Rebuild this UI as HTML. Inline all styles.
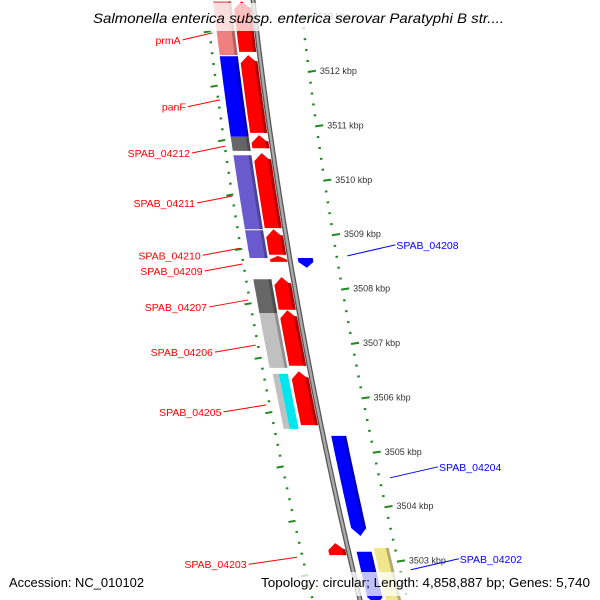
<!DOCTYPE html>
<html><head><meta charset="utf-8"><style>
html,body{margin:0;padding:0;background:#fff;width:600px;height:600px;overflow:hidden}
svg{display:block}
text{font-family:"Liberation Sans","DejaVu Sans",sans-serif}
</style></head><body>
<svg id="map" width="600" height="600" viewBox="0 0 600 600" xmlns="http://www.w3.org/2000/svg">
<g id="rings"></g>
<g id="backbone"></g>
<g id="feats"></g>
<g id="labels"></g>
<rect x="86" y="3" width="428" height="28" fill="#fff" fill-opacity="0.75"/>
<text x="93" y="23" textLength="411" lengthAdjust="spacingAndGlyphs" font-size="14" font-style="italic" fill="#000">Salmonella enterica subsp. enterica serovar Paratyphi B str....</text>
<rect x="4" y="572" width="146" height="24" fill="#fff" fill-opacity="0.75"/>
<text x="9" y="587" textLength="135" lengthAdjust="spacingAndGlyphs" font-size="13" fill="#000">Accession: NC_010102</text>
<rect x="256" y="572" width="340" height="24" fill="#fff" fill-opacity="0.75"/>
<text x="261" y="587" textLength="329" lengthAdjust="spacingAndGlyphs" font-size="13" fill="#000">Topology: circular; Length: 4,858,887 bp; Genes: 5,740</text>
</svg>
<script>
// data (kbp)
const majorTicks = [3513,3512,3511,3510,3509,3508,3507,3506,3505,3504,3503,3502];
const tickLabels = ["3513 kbp","3512 kbp","3511 kbp","3510 kbp","3509 kbp","3508 kbp","3507 kbp","3506 kbp","3505 kbp","3504 kbp","3503 kbp","3502 kbp"];
const fwdGenes = [[3512.37,3513.3],[3510.88,3512.31],[3510.60,3510.84],[3509.13,3510.51],[3508.64,3509.11],[3508.51,3508.62],[3507.63,3508.23],[3506.60,3507.62],[3505.51,3506.50],[3503.12,3503.34]];
const cogFeat = [[3512.31,3513.3,"#f08080"],[3510.81,3512.29,"#0000ff"],[3510.55,3510.81,"#666666"],[3509.11,3510.47,"#6a5acd"],[3508.58,3509.09,"#6a5acd"],[3507.57,3508.19,"#666666"],[3506.56,3507.57,"#c0c0c0"]];
const splitFeat = [[3505.44,3506.45,"#c0c0c0","#00e5ee"]];
const revGenes = [[3508.40,3508.58,"#0000ff",0],[3503.47,3505.31,"#0000ff",0],[3502.2,3503.18,"#0000ff",0],[3502.2,3503.25,"#f0e68c",1]];
const fwdLabels = [["prmA",3512.72],["panF",3511.49],["SPAB_04212",3510.64],["SPAB_04211",3509.72],["SPAB_04210",3508.76],["SPAB_04209",3508.47],["SPAB_04207",3507.81],["SPAB_04206",3506.98],["SPAB_04205",3505.88],["SPAB_04203",3503.08]];
const revLabels = [["SPAB_04208",3508.62],["SPAB_04204",3504.54],["SPAB_04202",3502.85]];

const NS="http://www.w3.org/2000/svg";
function yOf(k){return 72+(3512-k)*54.4;}
function X(y){return 253+0.115*y+1.056e-4*y*y;}
function mk(tag,attrs,parent){const e=document.createElementNS(NS,tag);for(const a in attrs)e.setAttribute(a,attrs[a]);parent.appendChild(e);return e;}
function band(a,b,y1,y2,tip,dir){
  let pts=[],L=[],R=[];
  let ya=y1,yb=y2;
  if(dir===-1)ya=y1+Math.min(tip,(y2-y1)*0.6);
  if(dir===1)yb=y2-Math.min(tip,(y2-y1)*0.6);
  for(let y=ya;y<=yb;y+=4){L.push([X(y)+a,y]);R.push([X(y)+b,y]);}
  L.push([X(yb)+a,yb]);R.push([X(yb)+b,yb]);
  if(dir===-1){pts.push([X(y1)+(a+b)/2,y1]);}
  pts=pts.concat(R);
  if(dir===1)pts.push([X(y2)+(a+b)/2,y2]);
  pts=pts.concat(L.reverse());
  return pts.map(p=>p[0].toFixed(1)+","+p[1].toFixed(1)).join(" ");
}
const rings=document.getElementById('rings'),bb=document.getElementById('backbone'),fg=document.getElementById('feats'),lg=document.getElementById('labels');

for(let i=0;i<majorTicks.length;i++){
  const k=majorTicks[i];
  for(let m=0;m<5;m++){
    const kk=k-m*0.2;
    const y=yOf(kk);
    const x=X(y);
    const major=m===0;
    let e=mk('line',{x1:x+46,y1:y,x2:x+(major?54:48.5),y2:y-(major?1.2:0.4),stroke:'#1f8a1f','stroke-width':2},rings);
    
    
    const yl=yOf(kk-0.25);
    const xl=X(yl);
    e=mk('line',{x1:xl-(major?53:48.5),y1:yl+(major?1.2:0.4),x2:xl-46,y2:yl,stroke:'#1f8a1f','stroke-width':2},rings);
    
    
    if(major && y>-5 && y<600){
      const t=mk('text',{x:x+58,y:y+2,'font-size':9,fill:'#333'},rings);
      t.textContent=tickLabels[i];
      
      
    }
  }
}
let bp=[];for(let y=-5;y<=605;y+=5)bp.push(X(y).toFixed(1)+","+y);
let e=mk('polyline',{points:bp.join(" "),fill:'none',stroke:'#555','stroke-width':5},bb);


e=mk('polyline',{points:bp.join(" "),fill:'none',stroke:'#aaa','stroke-width':2.5},bb);



fwdGenes.forEach(g=>{
  const y1=yOf(g[1]),y2=yOf(g[0]);
  let p=mk('polygon',{points:band(-20,-3,y1,y2,8,-1),fill:'#ff0000'},fg);
  
  
  p=mk('polygon',{points:band(-6,-3,y1+6,y2,0,0),fill:'#b30000'},fg);
  
  
});
cogFeat.forEach(g=>{
  const y1=yOf(g[1]),y2=yOf(g[0]);
  let p=mk('polygon',{points:band(-40,-22,y1,y2,0,0),fill:g[2]},fg);
  
  
  p=mk('polygon',{points:band(-25,-22,y1,y2,0,0),fill:'#000','fill-opacity':0.25},fg);
  
  
});
splitFeat.forEach(g=>{
  const y1=yOf(g[1]),y2=yOf(g[0]);
  let p=mk('polygon',{points:band(-38,-32,y1,y2,0,0),fill:g[2]},fg);
  
  
  p=mk('polygon',{points:band(-32,-23,y1,y2,0,0),fill:g[3]},fg);
  
  
});
revGenes.forEach(g=>{
  const y1=yOf(g[1]),y2=yOf(g[0]);
  const a=g[3]===0?8:26,b=g[3]===0?23:41;
  let p=mk('polygon',{points:band(a,b,y1,y2,g[3]===0?8:0,g[3]===0?1:0),fill:g[2]},fg);
  
  
  p=mk('polygon',{points:band(b-3,b,y1,y2-(g[3]===0?6:0),0,0),fill:'#000','fill-opacity':0.25},fg);
  
  
});
fwdLabels.forEach(l=>{
  const y=yOf(l[1]);
  const ex=X(y)-44-9*(y/557);
  const ty=y+7;
  const tx=X(ty)-75-30*(ty/566);
  let ln=mk('line',{x1:tx+2,y1:ty,x2:ex,y2:y,stroke:'#ff0000','stroke-width':1},lg);
  
  
  const t=mk('text',{x:tx,y:ty+4,'text-anchor':'end','font-size':10.5,fill:'#ff0000'},lg);
  t.textContent=l[0];
  
  
});
revLabels.forEach(l=>{
  const y=yOf(l[1]),x=X(y)+58;
  const ly=y-11, lx=x+48;
  let ln=mk('line',{x1:x,y1:y,x2:lx,y2:ly,stroke:'#0000ff','stroke-width':1},lg);
  
  
  const t=mk('text',{x:lx+1,y:ly+4,'font-size':10.5,fill:'#0000ff'},lg);
  t.textContent=l[0];
  
  
});
</script>
</body></html>
